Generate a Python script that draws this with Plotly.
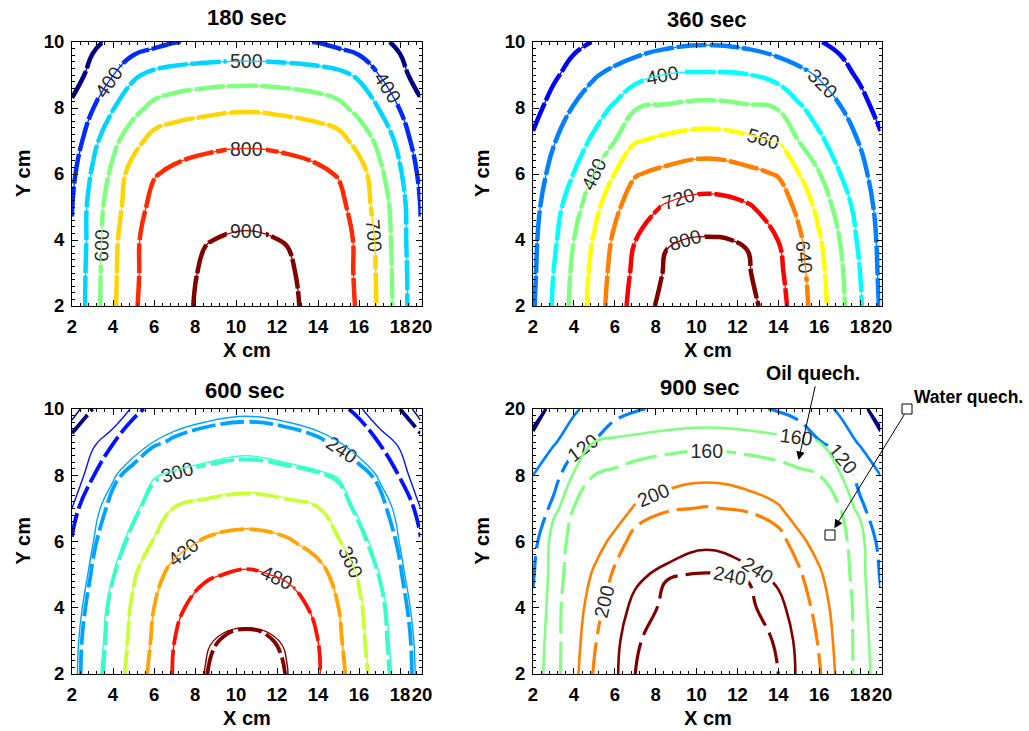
import plotly.graph_objects as go

# ---------------- data ----------------
# grid columns (cm); fields are symmetric about x = 10.5, values read on the left half
X_HALF = [2, 3, 4, 5, 6, 7, 8.5, 10.5]
Y_ROWS = [2, 3, 4, 5, 6, 7, 8, 9, 10]

# 180 sec (oil and water practically coincide)
T180 = [
    [412, 549, 684, 790, 840, 872, 918, 950],
    [410, 547, 680, 786, 836, 866, 912, 940],
    [405, 541, 673, 785, 835, 858, 897, 912],
    [398, 540, 655, 760, 825, 840, 858, 870],
    [377, 512, 623, 751, 795, 815, 828, 835],
    [330, 470, 575, 660, 740, 765, 782, 790],
    [318, 395, 495, 570, 625, 650, 672, 688],
    [260, 327, 398, 485, 525, 540, 552, 558],
    [255, 285, 315, 345, 370, 397, 412, 420],
]
# 360 sec
T360 = [
    [312, 408, 505, 592, 682, 748, 829, 840],
    [306, 400, 497, 585, 670, 737, 808, 828],
    [303, 383, 480, 569, 655, 719, 796, 806],
    [295, 366, 448, 535, 622, 685, 728, 747],
    [280, 342, 402, 484, 562, 635, 660, 680],
    [252, 315, 363, 415, 480, 555, 578, 595],
    [213, 271, 326, 367, 412, 478, 490, 502],
    [195, 227, 270, 313, 342, 370, 403, 409],
    [175, 200, 222, 243, 262, 278, 298, 311],
]
# 600 sec, oil quench (solid) and water quench (dashed)
T600_OIL = [
    [226, 279, 331, 385, 438, 485, 541, 560],
    [224, 273, 323, 377, 429, 480, 537, 552],
    [215, 265, 318, 370, 420, 470, 500, 522],
    [200, 252, 300, 354, 401, 440, 474, 488],
    [190, 238, 277, 320, 365, 398, 426, 440],
    [180, 228, 260, 290, 327, 363, 378, 388],
    [158, 196, 235, 266, 297, 308, 319, 330],
    [140, 175, 194, 218, 241, 254, 268, 279],
    [110, 135, 160, 184, 200, 212, 222, 229],
]
T600_WATER = [
    [218, 270, 328, 384, 438, 485, 539, 558],
    [216, 266, 320, 376, 429, 480, 535, 550],
    [206, 258, 315, 369, 420, 470, 500, 522],
    [190, 245, 297, 354, 401, 440, 474, 488],
    [182, 232, 272, 317, 364, 398, 426, 440],
    [168, 205, 258, 287, 325, 362, 377, 387],
    [145, 177, 228, 258, 293, 305, 316, 326],
    [128, 160, 178, 205, 232, 247, 262, 272],
    [98, 120, 145, 170, 190, 203, 213, 220],
]
# 900 sec
T900_OIL = [
    [148, 172, 195, 217, 238, 250, 261, 268],
    [147, 170, 193, 214, 237, 248, 258, 266],
    [145, 168, 191, 209, 231, 245, 254, 260],
    [143, 166, 185, 203, 220, 236, 245, 252],
    [138, 166, 178, 192, 205, 218, 229, 236],
    [130, 157, 168, 178, 190, 202, 211, 218],
    [120, 142, 162, 172, 180, 186, 191, 195],
    [88, 117, 135, 160, 164, 166, 169, 171],
    [70, 86, 116, 130, 136, 140, 144, 146],
]
T900_WATER = [
    [128, 151, 177, 202, 222, 240, 251, 258],
    [126, 152, 174, 198, 218, 238, 248, 256],
    [123, 154, 170, 192, 212, 230, 244, 251],
    [118, 152, 168, 185, 203, 222, 239, 241],
    [113, 143, 170, 180, 192, 206, 216, 222],
    [105, 125, 161, 172, 183, 192, 198, 201],
    [95, 112, 135, 160, 167, 173, 178, 181],
    [85, 100, 112, 121, 135, 143, 149, 153],
    [70, 86, 97, 105, 112, 118, 124, 128],
]

# contour levels (start, end, step)
LEVELS_180 = (300, 900, 100)
LEVELS_360 = (160, 800, 80)
LEVELS_600 = (120, 540, 60)
LEVELS_900 = (80, 240, 40)

PANEL_TITLES = ["180 sec", "360 sec", "600 sec", "900 sec"]
X_TICK_POS = [2, 4, 6, 8, 10, 12, 14, 16, 18, 19.07]
X_TICK_TEXT = ["2", "4", "6", "8", "10", "12", "14", "16", "18", "20"]
Y_TICK_POS = [2, 4, 6, 8, 10]
Y_TICK_TEXT = ["2", "4", "6", "8", "10"]
Y_TICK_TEXT_900 = ["2", "4", "6", "8", "20"]

# ---------------- build ----------------
X_FULL = X_HALF + [21 - v for v in X_HALF[-2::-1]]


def full(field):
    return [row + row[-2::-1] for row in field]


JET = [[0, "rgb(0,0,128)"], [0.125, "rgb(0,0,255)"], [0.375, "rgb(0,255,255)"],
       [0.625, "rgb(255,255,0)"], [0.875, "rgb(255,0,0)"], [1, "rgb(128,0,0)"]]
FONT = "Arial, Liberation Sans, sans-serif"
LABELFONT = dict(family=FONT, size=19.5, color="#2a2a2a")


def contour(field, levels, xa, ya, width, dash, labels):
    return go.Contour(
        x=X_FULL, y=Y_ROWS, z=full(field), xaxis=xa, yaxis=ya,
        colorscale=JET, showscale=False, hoverinfo="skip",
        contours=dict(coloring="lines", start=levels[0], end=levels[1], size=levels[2],
                      showlabels=labels, labelfont=LABELFONT),
        line=dict(width=width, dash=dash, smoothing=1.25),
    )


DASH = "30px,3px"
traces = [
    contour(T180, LEVELS_180, "x", "y", 4.5, DASH, True),
    contour(T180, LEVELS_180, "x", "y", 1.3, "solid", False),
    contour(T360, LEVELS_360, "x2", "y2", 4.5, DASH, True),
    contour(T360, LEVELS_360, "x2", "y2", 1.3, "solid", False),
    contour(T600_WATER, LEVELS_600, "x3", "y3", 3.8, "24px,5px", True),
    contour(T600_OIL, LEVELS_600, "x3", "y3", 1.4, "solid", False),
    contour(T900_WATER, LEVELS_900, "x4", "y4", 3.2, "32px,8px", True),
    contour(T900_OIL, LEVELS_900, "x4", "y4", 2.6, "solid", True),
]

fig = go.Figure(traces)

W, H = 1029, 731
TICKFONT = dict(family=FONT, size=18.5, color="black", weight="bold")


def xax(left, right, anchor):
    return dict(domain=[left / W, right / W], anchor=anchor, range=[2, 19.07],
                tickmode="array", tickvals=X_TICK_POS, ticktext=X_TICK_TEXT, tickangle=0,
                ticks="inside", ticklen=6, tickwidth=1, tickcolor="black",
                showline=True, linecolor="black", linewidth=1, mirror="ticks",
                showgrid=False, zeroline=False, tickfont=TICKFONT, ticklabelstandoff=4,
                minor=dict(ticks="inside", ticklen=3, dtick=0.4, tick0=2, tickcolor="black",
                           showgrid=False))


def yax(top, bottom, anchor, text):
    return dict(domain=[1 - bottom / H, 1 - top / H], anchor=anchor, range=[2, 10],
                tickmode="array", tickvals=Y_TICK_POS, ticktext=text,
                ticks="inside", ticklen=6, tickwidth=1, tickcolor="black",
                showline=True, linecolor="black", linewidth=1, mirror="ticks",
                showgrid=False, zeroline=False, tickfont=TICKFONT, ticklabelstandoff=3,
                minor=dict(ticks="inside", ticklen=3, dtick=0.2, tick0=2, tickcolor="black",
                           showgrid=False))


PANELS = [(72, 422, 42, 306), (533, 882, 42, 306), (72, 422, 409, 674), (533, 882, 409, 674)]
layout = dict(width=W, height=H, margin=dict(l=0, r=0, t=0, b=0, autoexpand=False),
              paper_bgcolor="white", plot_bgcolor="white", showlegend=False)
for i, (l, r, t, b) in enumerate(PANELS):
    s = "" if i == 0 else str(i + 1)
    layout["xaxis" + s] = xax(l, r, "y" + s)
    layout["yaxis" + s] = yax(t, b, "x" + s, Y_TICK_TEXT_900 if i == 3 else Y_TICK_TEXT)

annotations = []
TITLEFONT = dict(family=FONT, size=22, color="black", weight="bold")
AXFONT = dict(family=FONT, size=20, color="black", weight="bold")
title_pos = [(247, 17), (707, 19), (245, 390), (700, 387)]
for txt, (px, py) in zip(PANEL_TITLES, title_pos):
    annotations.append(dict(text=txt, x=px / W, y=1 - py / H, xref="paper", yref="paper",
                            showarrow=False, font=TITLEFONT, xanchor="center", yanchor="middle"))
for (l, r, t, b), ylab_x in zip(PANELS, [23, 482, 22, 481]):
    annotations.append(dict(text="X cm", x=(l + r) / 2 / W, y=1 - (b + 44) / H, xref="paper",
                            yref="paper", showarrow=False, font=AXFONT, xanchor="center",
                            yanchor="middle"))
    annotations.append(dict(text="Y cm", x=ylab_x / W, y=1 - (t + b) / 2 / H, xref="paper",
                            yref="paper", showarrow=False, font=AXFONT, textangle=-90,
                            xanchor="center", yanchor="middle"))

annotations += [
    dict(text="Oil quech.", x=813 / W, y=1 - 373 / H, xref="paper", yref="paper",
         showarrow=False, font=dict(family=FONT, size=19.5, color="black", weight="bold"),
         xanchor="center", yanchor="middle"),
    dict(text="", x=14.99, y=8.46, ax=15.82, ay=10.73, xref="x4", yref="y4",
         axref="x4", ayref="y4", showarrow=True, arrowhead=2, arrowsize=1.7,
         arrowwidth=1, arrowcolor="black"),
    dict(text="Water quech.", x=912 / W, y=1 - 397 / H, xref="paper", yref="paper",
         showarrow=False, font=dict(family=FONT, size=17.5, color="black", weight="bold"),
         xanchor="left", yanchor="middle"),
    dict(text="", x=16.74, y=6.4, ax=20.33, ay=10.0, xref="x4", yref="y4",
         axref="x4", ayref="y4", showarrow=True, arrowhead=2, arrowsize=1.7,
         arrowwidth=1, arrowcolor="black", startstandoff=5),
]
layout["annotations"] = annotations

# callout squares of the water-quench pointer (pixel-sized boxes anchored in the paper)
shapes = []
for (px, py) in [(907, 409), (830, 535)]:
    shapes.append(dict(type="rect", xref="paper", yref="paper", xsizemode="pixel",
                       ysizemode="pixel", xanchor=px / W, yanchor=1 - py / H,
                       x0=-5, x1=5, y0=-5, y1=5, line=dict(color="black", width=1),
                       fillcolor="white", layer="above"))
layout["shapes"] = shapes
fig.update_layout(layout)
fig.write_html("out.html",
               post_script="document.body.style.margin='0';document.body.style.overflow='hidden';")
